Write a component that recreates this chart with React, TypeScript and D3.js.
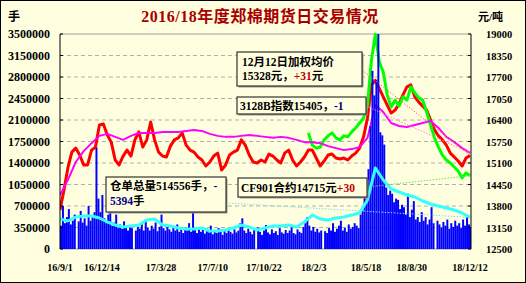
import React from 'react';
import * as d3 from 'd3';

const W = 526;
const H = 283;
const TOTAL_DAYS = 832;

// x axis (position in calendar-like day units from 2016-09-01)
const xTickDays = [0, 85, 205, 310, 414, 515, 621, 714, 832];
const xTickLabels = ['16/9/1', '16/12/14', '17/3/28', '17/7/10', '17/10/22', '18/2/3', '18/5/18', '18/8/30', '18/12/12'];

const leftTicks = [0, 350000, 700000, 1050000, 1400000, 1750000, 2100000, 2450000, 2800000, 3150000, 3500000];
const rightTicks = [12500, 13150, 13800, 14450, 15100, 15750, 16400, 17050, 17700, 18350, 19000];

// daily volume (thousand lots), one value every 4 days
const volumeStep = 4;
const volumeK = [
  380, 700, 420, 520, 650, 400, 460, 560, 0, 450,
  620, 430, 500, 380, 700, 460, 520, 600, 1650, 820,
  600, 880, 500, 420, 560, 700, 380, 430, 560, 340,
  400, 330, 450, 360, 300, 390, 340, 0, 300, 360,
  330, 420, 300, 480, 350, 300, 380, 330, 430, 290,
  360, 560, 340, 300, 380, 320, 280, 350, 300, 400,
  280, 320, 260, 350, 300, 420, 280, 600, 320, 260,
  340, 280, 310, 250, 330, 270, 380, 240, 300, 260,
  340, 280, 230, 300, 260, 340, 280, 250, 320, 270,
  300, 420, 500, 300, 260, 330, 280, 240, 310, 0,
  350, 280, 230, 300, 390, 270, 240, 320, 260, 290,
  230, 340, 270, 250, 310, 260, 300, 380, 260, 240,
  320, 280, 260, 360, 420, 520, 380, 300, 360, 280,
  330, 270, 300, 0, 290, 260, 340, 300, 420, 280,
  330, 380, 460, 300, 350, 280, 400, 330, 360, 420,
  380, 340, 560, 620, 1000, 820, 1300, 2000, 2900, 2500,
  2750, 3500, 1900, 1850, 1700, 1000, 880, 950, 900, 760,
  820, 800, 650, 720, 680, 560, 900, 520, 640, 780,
  480, 520, 440, 600, 460, 520, 400, 480, 680, 420,
  0, 460, 400, 350, 440, 380, 480, 330, 420, 360,
  460, 380, 420, 340, 480, 380, 560, 400, 360,
];

// weighted average price (yuan/t), one value every 8 days
const priceStep = 8;
const avgPrice = [
  13680, 14280, 14950, 15430, 15550, 15340, 15040, 15040, 15490, 15580,
  16250, 16280, 15950, 15730, 15190, 15040, 15310, 15490, 15310, 15800,
  16040, 15580, 15800, 16340, 15800, 15430, 15310, 15280, 15610, 15800,
  15860, 16010, 15640, 15490, 15430, 15280, 15190, 15010, 15130, 15310,
  15400, 14890, 15040, 15340, 15430, 15490, 15800, 15640, 15340, 15130,
  15100, 15190, 15130, 15370, 15310, 15190, 15100, 15400, 15490, 15190,
  15010, 15130, 15280, 15490, 15490, 15250, 15010, 15160, 15340, 15370,
  15250, 15220, 15250, 15190, 15310, 15400, 15550, 15890, 16460, 17460,
  17600, 17350, 17100, 16850, 16610, 16700, 16880, 17160, 17400, 17460,
  17100, 16940, 16820, 16700, 16400, 16100, 15920, 15800, 15640, 15400,
  15280, 15160, 15010, 15250, 15328,
];

// CF901 contract price, from day 504, every 8 days
const cfStartDay = 504;
const cf901 = [
  16010, 15640, 15550, 15580, 15800, 15920, 16010, 15860, 15800, 15920,
  15890, 16040, 16160, 16310, 16460, 16850, 18210, 18990, 18150, 17850,
  17160, 16790, 17000, 16820, 17100, 17000, 17400, 17220, 17070, 17000,
  16640, 16250, 15860, 15580, 15340, 15190, 15100, 14980, 14860, 14650,
  14800, 14715,
];

// 3128B index, every 16 days
const indexStep = 16;
const index3128B = [
  14130, 14590, 15130, 15460, 15700, 15920, 15980, 15890, 15800, 15920,
  16010, 16010, 16010, 16040, 16040, 16040, 16070, 16100, 16070, 15980,
  15920, 15890, 15890, 15920, 15950, 15920, 15890, 15860, 15890, 15860,
  15800, 15730, 15730, 15700, 15610, 15550, 15490, 15520, 15580, 15860,
  16850, 16640, 16310, 16220, 16190, 16250, 16310, 16370, 16160, 15890,
  15730, 15550, 15405,
];

// total position (thousand lots), every 16 days
const oiStep = 16;
const openInterestK = [
  488, 456, 521, 537, 537, 505, 440, 391, 358, 374,
  391, 472, 488, 391, 374, 342, 326, 326, 342, 293,
  293, 309, 342, 391, 358, 309, 342, 374, 374, 391,
  358, 440, 553, 488, 472, 505, 521, 553, 586, 798,
  1319, 1123, 977, 928, 879, 846, 781, 733, 700, 667,
  635, 586, 514.556,
];

const FONT = "'Liberation Serif', 'Noto Sans CJK SC', serif";

export default function App() {
  const left = 60;
  const right = 471;
  const top = 34;
  const bottom = 249;

  const x = d3.scaleLinear().domain([0, TOTAL_DAYS]).range([60, 470]);
  const yL = d3.scaleLinear().domain([0, 3500000]).range([bottom, top]);
  const yR = d3.scaleLinear().domain([12500, 19000]).range([bottom, top]);

  const pathR = (start: number, step: number, arr: number[]) =>
    d3.line<number>().x((_, i) => x(start + i * step)).y((v) => yR(v))(arr) || '';
  const pathL = (start: number, step: number, arr: number[]) =>
    d3.line<number>().x((_, i) => x(start + i * step)).y((v) => yL(v * 1000))(arr) || '';

  const barW = x(volumeStep) - x(0);

  const lastX = x(TOTAL_DAYS);
  const lastRed = yR(avgPrice[avgPrice.length - 1]);
  const lastIdx = yR(index3128B[index3128B.length - 1]);
  const lastCf = yR(cf901[cf901.length - 1]);
  const lastOi = yL(openInterestK[openInterestK.length - 1] * 1000);

  const box = (bx: number, by: number, bw: number, bh: number) => (
    <g>
      <rect x={bx + 1.5} y={by + 1.5} width={bw} height={bh} fill="#9a9a80" />
      <rect x={bx} y={by} width={bw} height={bh} fill="#FFFFE0" stroke="#333" strokeWidth={1.2} />
    </g>
  );

  return (
    <svg width={W} height={H} style={{ position: 'absolute', left: 0, top: 0 }} fontFamily={FONT}>
      <defs>
        <clipPath id="plot">
          <rect x={left} y={28} width={right - left} height={bottom - 28} />
        </clipPath>
      </defs>
      <rect x={0.5} y={0.5} width={W - 1} height={H - 1} fill="#FFFFE0" stroke="#000" />

      {/* gridlines */}
      {leftTicks.map((t, i) =>
        i === 0 || i === leftTicks.length - 1 ? null : (
          <line key={'g' + i} x1={left} x2={right} y1={yL(t)} y2={yL(t)} stroke="#b0b0b0" strokeDasharray="4,3" />
        )
      )}
      <line x1={left} x2={right} y1={top} y2={top} stroke="#a0a0a0" />
      <line x1={left} x2={right} y1={bottom} y2={bottom} stroke="#a0a0a0" />

      <g clipPath="url(#plot)">
        <path d={pathR(0, priceStep, avgPrice)} fill="none" stroke="#FF0000" strokeWidth={3} strokeLinejoin="round" />
        <path d={pathR(cfStartDay, priceStep, cf901)} fill="none" stroke="#00FF00" strokeWidth={3} strokeLinejoin="round" />
        <path d={pathR(0, indexStep, index3128B)} fill="none" stroke="#FF00FF" strokeWidth={2} strokeLinejoin="round" />
        {volumeK.map((v, i) => (
          <rect key={'b' + i} x={x(i * volumeStep)} y={yL(v * 1000)} width={barW} height={bottom - yL(v * 1000)} fill="#0000FF" />
        ))}
        <path d={pathL(0, oiStep, openInterestK)} fill="none" stroke="#33FFFF" strokeWidth={3} strokeLinejoin="round" />
      </g>

      {/* axes */}
      <line x1={left} x2={left} y1={top} y2={bottom} stroke="#000" />
      <line x1={right} x2={right} y1={top} y2={bottom} stroke="#000" />
      {leftTicks.map((t, i) => (
        <g key={'lt' + i}>
          <line x1={left} x2={left + 3} y1={yL(t)} y2={yL(t)} stroke="#000" />
          <text x={50} y={yL(t) + 4} textAnchor="end" fontSize={12} fontWeight="bold" fill="#000">{t}</text>
        </g>
      ))}
      {rightTicks.map((t, i) => (
        <g key={'rt' + i}>
          <line x1={right - 3} x2={right} y1={yR(t)} y2={yR(t)} stroke="#000" />
          <text x={486} y={yR(t) + 4} textAnchor="start" fontSize={10.5} fontWeight="bold" fill="#000">{t}</text>
        </g>
      ))}
      {xTickDays.map((d, i) => (
        <text key={'xt' + i} x={x(d)} y={271} textAnchor="middle" fontSize={10} fontWeight="bold" fill="#000">{xTickLabels[i]}</text>
      ))}

      {/* leader lines */}
      <line x1={362} y1={70} x2={lastX} y2={lastRed} stroke="#FF7050" strokeDasharray="1.5,1.5" />
      <line x1={366} y1={106} x2={lastX} y2={lastIdx} stroke="#FF80C0" strokeDasharray="1.5,1.5" />
      <line x1={367} y1={187} x2={lastX} y2={lastCf} stroke="#66DD66" strokeDasharray="1.5,1.5" />
      <line x1={226} y1={203} x2={lastX} y2={lastOi} stroke="#80E0E0" strokeDasharray="1.5,1.5" />

      {/* annotation boxes */}
      {box(237, 52, 125, 34)}
      <text x={242} y={66} fontSize={11.5} fontWeight="bold" fill="#000">12月12日加权均价</text>
      <text x={242} y={80} fontSize={11.5} fontWeight="bold" fill="#000">
        15328元，<tspan fill="#C00000">+31</tspan>元
      </text>

      {box(237, 97, 129, 17)}
      <text x={240} y={110} fontSize={11.5} fontWeight="bold" fill="#000">
        3128B指数15405，<tspan fill="#000080">-1</tspan>
      </text>

      {box(106, 177, 120, 35)}
      <text x={110} y={190} fontSize={11.5} fontWeight="bold" fill="#000">
        仓单总量514556手，<tspan fill="#000080">-</tspan>
      </text>
      <text x={110} y={205} fontSize={11.5} fontWeight="bold" fill="#000">
        <tspan fill="#000080">5394</tspan>手
      </text>

      {box(238, 178, 129, 19)}
      <text x={241} y={192} fontSize={11.5} fontWeight="bold" fill="#000">
        CF901合约14715元<tspan fill="#C00000">+30</tspan>
      </text>

      {/* titles */}
      <text x={260} y={22} textAnchor="middle" fontSize={16} fontWeight="bold" fill="#A80000" letterSpacing={0.5}>
        2016/18年度郑棉期货日交易情况
      </text>
      <text x={8} y={21} fontSize={12} fontWeight="bold" fill="#000">手</text>
      <text x={478} y={21} fontSize={11} fontWeight="bold" fill="#000">元/吨</text>
    </svg>
  );
}
